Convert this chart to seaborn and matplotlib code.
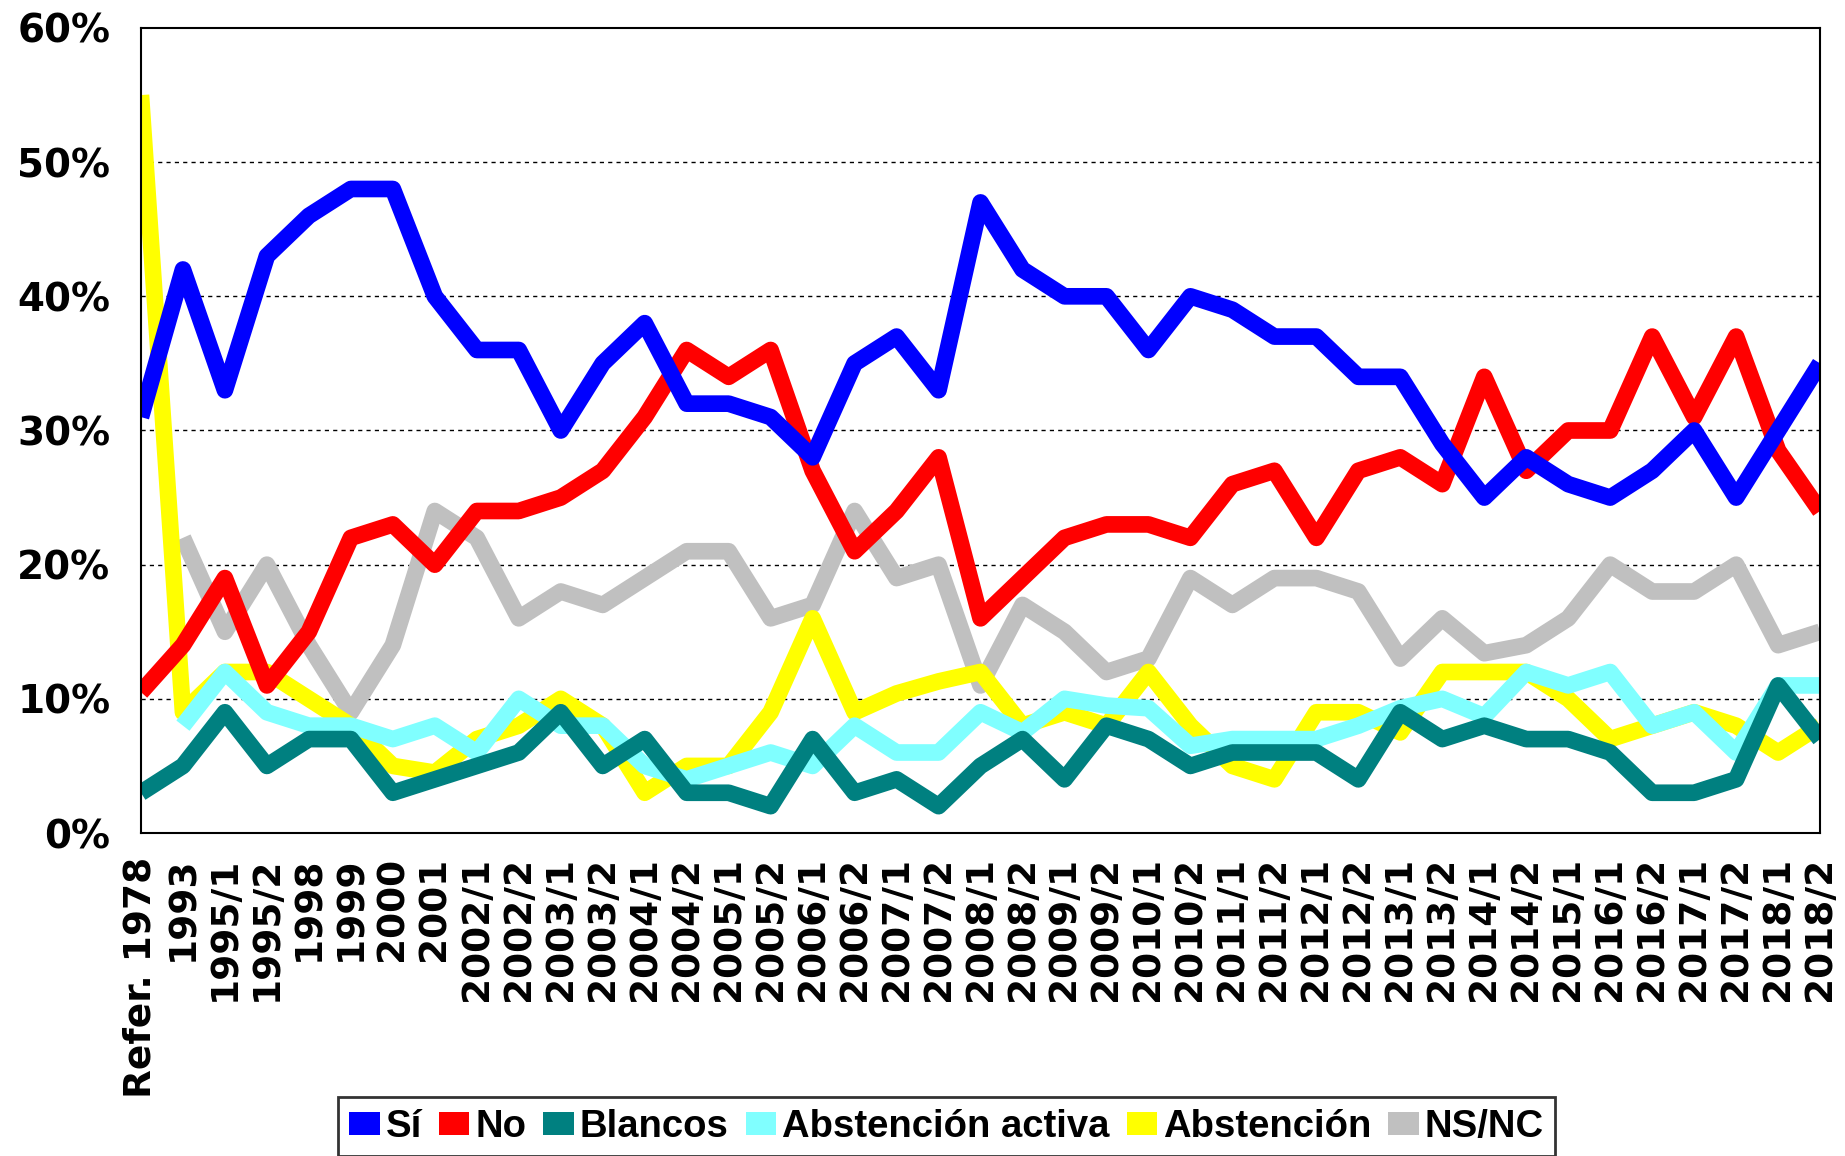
import matplotlib
matplotlib.use("Agg")
import matplotlib.pyplot as plt
import numpy as np
import pandas as pd
import seaborn as sns
from matplotlib.patches import Patch

# x categories (survey waves)
labels = ["Refer. 1978", "1993", "1995/1", "1995/2", "1998", "1999", "2000", "2001",
          "2002/1", "2002/2", "2003/1", "2003/2", "2004/1", "2004/2", "2005/1", "2005/2",
          "2006/1", "2006/2", "2007/1", "2007/2", "2008/1", "2008/2", "2009/1", "2009/2",
          "2010/1", "2010/2", "2011/1", "2011/2", "2012/1", "2012/2", "2013/1", "2013/2",
          "2014/1", "2014/2", "2015/1", "2016/1", "2016/2", "2017/1", "2017/2", "2018/1",
          "2018/2"]

nan = np.nan
si = [31, 42, 33, 43, 46, 48, 48, 40, 36, 36, 30, 35, 38, 32, 32, 31, 28, 35, 37, 33,
      47, 42, 40, 40, 36, 40, 39, 37, 37, 34, 34, 29, 25, 28, 26, 25, 27, 30, 25, 30, 35]
no = [10.5, 14, 19, 11, 15, 22, 23, 20, 24, 24, 25, 27, 31, 36, 34, 36, 27, 21, 24, 28,
      16, 19, 22, 23, 23, 22, 26, 27, 22, 27, 28, 26, 34, 27, 30, 30, 37, 31, 37, 28.5, 24]
blancos = [3, 5, 9, 5, 7, 7, 3, 4, 5, 6, 9, 5, 7, 3, 3, 2, 7, 3, 4, 2,
           5, 7, 4, 8, 7, 5, 6, 6, 6, 4, 9, 7, 8, 7, 7, 6, 3, 3, 4, 11, 7]
abst_activa = [nan, 8, 12, 9, 8, 8, 7, 8, 6, 10, 8, 8, 5, 4, 5, 6, 5, 8, 6, 6,
               9, 7.5, 10, 9.5, 9.3, 6.5, 7, 7, 7, 8, 9.3, 10, 8.7, 12, 11, 12, 8, 9, 6, 11, 11]
abstencion = [55, 9, 12, 12, 10, 8, 5, 4.5, 7, 8, 10, 8, 3, 5, 5, 9, 16, 9, 10.4, 11.3,
              12, 8, 9, 8, 12, 8, 5, 4, 9, 9, 7.5, 12, 12, 12, 10, 7, 8, 9, 8, 6, 8]
nsnc = [nan, 22, 15, 20, 14, 9, 14, 24, 22, 16, 18, 17, 19, 21, 21, 16, 17, 24, 19, 20,
        11, 17, 15, 12, 13, 19, 17, 19, 19, 18, 13, 16, 13.4, 14, 16, 20, 18, 18, 20, 14, 15]

series_names = ["Sí", "No", "Blancos", "Abstención activa", "Abstención", "NS/NC"]
series_values = [si, no, blancos, abst_activa, abstencion, nsnc]
colors = ["#0000FF", "#FF0000", "#008080", "#80FFFF", "#FFFF00", "#C0C0C0"]

rows = []
for name, vals in zip(series_names, series_values):
    for i, v in enumerate(vals):
        rows.append({"pos": i, "serie": name, "valor": v})
df = pd.DataFrame(rows).dropna()

sns.set_style("white")
plt.rcParams["font.family"] = ["DejaVu Sans"]
plt.rcParams["text.color"] = "black"
plt.rcParams["xtick.color"] = "black"
plt.rcParams["ytick.color"] = "black"

fig = plt.figure(figsize=(18.45, 11.56), dpi=100)
ax = fig.add_axes([0.0764, 0.2794, 0.9101, 0.6964])

# first legend entry drawn on top
palette = dict(zip(series_names, colors))
sns.lineplot(data=df, x="pos", y="valor", hue="serie", hue_order=series_names[::-1],
             palette=palette, linewidth=12, sort=False, legend=False, ax=ax,
             solid_joinstyle="round", solid_capstyle="butt")

ax.set_xlim(0, len(labels) - 1)
ax.set_ylim(0, 60)
ax.set_yticks(range(0, 61, 10))
ax.set_yticklabels([f"{t}%" for t in range(0, 61, 10)], fontsize=28, fontweight="bold",
                   color="black")
ax.set_xticks(range(len(labels)))
ax.set_xticklabels(labels, rotation=90, fontsize=27, fontweight="bold", color="black")
ax.tick_params(axis="both", length=0)
ax.tick_params(axis="y", pad=22)
ax.tick_params(axis="x", pad=17)
ax.set_xlabel("")
ax.set_ylabel("")

for t in range(10, 60, 10):
    ax.axhline(t, color="black", linestyle=(0, (3, 3)), linewidth=1, zorder=0)

for sp in ax.spines.values():
    sp.set_visible(True)
    sp.set_color("black")
    sp.set_linewidth(1.5)

handles = [Patch(facecolor=c, edgecolor="none") for c in colors]
leg = fig.legend(handles, series_names, loc="lower center", bbox_to_anchor=(0.513, 0.0),
                 ncol=6, frameon=True, fancybox=False, edgecolor="black",
                 prop={"family": "Liberation Sans", "weight": "bold", "size": 27.5},
                 handlelength=0.8, handleheight=0.55, handletextpad=0.15,
                 columnspacing=0.45, borderpad=0.3, borderaxespad=0.0,
                 labelcolor="black")
leg.get_frame().set_linewidth(2)

fig.savefig("out.png", dpi=100)
